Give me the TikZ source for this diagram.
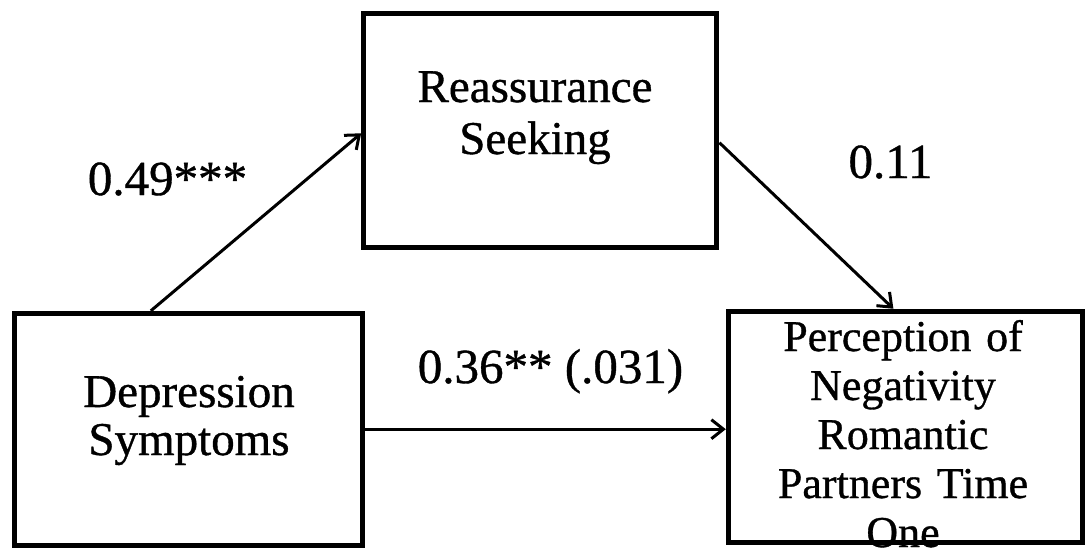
\documentclass[tikz,border=0pt]{standalone}
\usepackage{fontspec}
\setmainfont[FakeBold=0.8,AutoFakeBold=0.8]{Liberation Serif}
\usetikzlibrary{arrows.meta}
\begin{document}
\begin{tikzpicture}[x=1pt,y=-1pt,
  box/.style={draw, line width=5pt, rectangle, inner sep=0pt},
  txt/.style={anchor=base, inner sep=0pt, align=center, text width=340pt},
  arr/.style={line width=3pt, -{Straight Barb[length=12pt,width=19pt]}},
  lbl/.style={anchor=base, inner sep=0pt, font=\fontsize{49}{52}\selectfont}]
\useasboundingbox (0,0) rectangle (1085,547);
% box texts
\node[txt, font=\fontsize{47}{52}\selectfont] (Rt) at (535,102) {Reassurance\\Seeking};
\node[txt, font=\fontsize{47}{48}\selectfont] (Dt) at (189,407) {Depression\\Symptoms};
\node[txt, font=\fontsize{44}{49}\selectfont] (Pt) at (903,351) {Perception of\\Negativity\\Romantic\\Partners Time\\One};
% boxes
\node[box, minimum width=353.3pt, minimum height=233.5pt] (R) at (540.3,130.7) {};
\node[box, minimum width=348pt, minimum height=231.7pt] (D) at (188.5,429.2) {};
\node[box, minimum width=354.2pt, minimum height=231.3pt] (P) at (905.4,426.9) {};
% connectors
\draw[arr] ([xshift=138.8pt]D.north west) -- ([yshift=-2.6pt]R.west);
\draw[arr] ([yshift=-12pt]R.east) -- ([xshift=-12pt]P.north);
\draw[arr] (D.east) -- (D.east -| P.west);
% labels
\node[lbl] (l1) at (167.5,195) {0.49***};
\node[lbl] (l2) at (890.5,178) {0.11};
\node[lbl] (l3) at (550.5,383) {0.36** (.031)};
\end{tikzpicture}
\end{document}
